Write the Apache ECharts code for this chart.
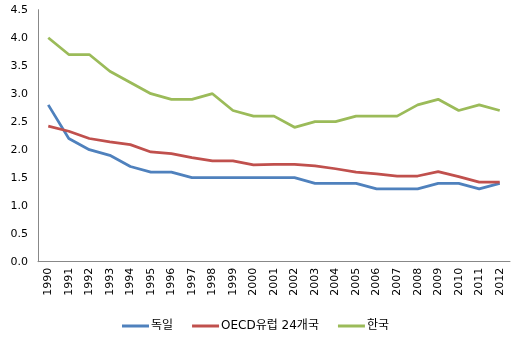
<!DOCTYPE html>
<html><head><meta charset="utf-8">
<script src="https://cdn.jsdelivr.net/npm/echarts@6/dist/echarts.min.js"></script>
<style>html,body{margin:0;padding:0;background:#fff}#c{width:511px;height:343px}</style>
</head><body><div id="c"></div>
<script>
const years = ['1990','1991','1992','1993','1994','1995','1996','1997','1998','1999','2000','2001','2002','2003','2004','2005','2006','2007','2008','2009','2010','2011','2012'];
const germany = [2.8,2.2,2.0,1.9,1.7,1.6,1.6,1.5,1.5,1.5,1.5,1.5,1.5,1.4,1.4,1.4,1.3,1.3,1.3,1.4,1.4,1.3,1.4];
const oecd = [2.42,2.33,2.2,2.14,2.09,1.96,1.93,1.86,1.8,1.8,1.73,1.74,1.74,1.71,1.66,1.6,1.57,1.53,1.53,1.61,1.52,1.42,1.42];
const korea = [4.0,3.7,3.7,3.4,3.2,3.0,2.9,2.9,3.0,2.7,2.6,2.6,2.4,2.5,2.5,2.6,2.6,2.6,2.8,2.9,2.7,2.8,2.7];
const names = ['독일','OECD유럽 24개국','한국'];
const colors = ['#4F81BD','#C0504D','#9BBB59'];
const font = 'DejaVu Sans, Noto Sans CJK KR, sans-serif';
const chart = echarts.init(document.getElementById('c'));
chart.setOption({
  animation:false,
  textStyle:{fontFamily:font},
  grid:{left:38,right:1,top:9.7,bottom:81.3},
  legend:{bottom:6,left:'center',itemWidth:27,itemHeight:3,itemGap:19,icon:'rect',
    textStyle:{fontFamily:font,fontSize:12,color:'#000',padding:[0,0,0,-3]},data:names},
  xAxis:{type:'category',data:years,boundaryGap:true,
    axisLine:{lineStyle:{color:'#888'}},axisTick:{show:false},
    axisLabel:{rotate:90,fontSize:11,color:'#000',margin:6,interval:0}},
  yAxis:{type:'value',min:0,max:4.5,interval:0.5,
    axisLine:{show:true,lineStyle:{color:'#888'}},axisTick:{show:false},splitLine:{show:false},
    axisLabel:{fontSize:11,color:'#000',margin:10,formatter:v=>v.toFixed(1)}},
  series:[
    {name:names[0],type:'line',data:germany,symbol:'none',lineStyle:{width:2.75,color:colors[0]},itemStyle:{color:colors[0]}},
    {name:names[1],type:'line',data:oecd,symbol:'none',lineStyle:{width:2.75,color:colors[1]},itemStyle:{color:colors[1]}},
    {name:names[2],type:'line',data:korea,symbol:'none',lineStyle:{width:2.75,color:colors[2]},itemStyle:{color:colors[2]}}
  ]
});
</script></body></html>
